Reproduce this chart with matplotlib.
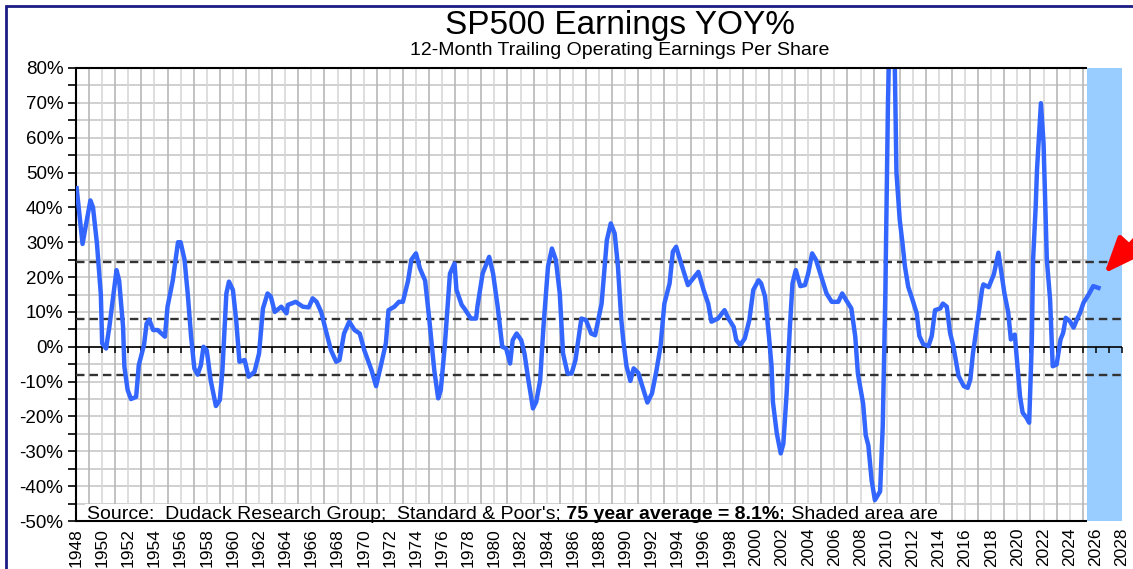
import numpy as np
import matplotlib.pyplot as plt
from matplotlib.patches import Rectangle
from matplotlib.markers import TICKDOWN
from matplotlib.ticker import MultipleLocator

# S&P 500 12-month trailing operating EPS, YoY %
yr = [1948.05, 1948.5, 1949.1, 1949.3, 1949.6, 1949.9, 1950.0, 1950.3, 1950.55, 1951.1,
      1951.3, 1951.6, 1951.7, 1951.95, 1952.2, 1952.6, 1952.8, 1953.2, 1953.4, 1953.6,
      1953.9, 1954.25, 1954.8, 1955.0, 1955.4, 1955.8, 1956.0, 1956.3, 1956.55, 1956.8,
      1957.05, 1957.3, 1957.55, 1957.75, 1958.0, 1958.3, 1958.7, 1959.0, 1959.2, 1959.5,
      1959.7, 1960.0, 1960.25, 1960.5, 1960.9, 1961.2, 1961.65, 1962.0, 1962.3, 1962.65,
      1962.9, 1963.2, 1963.7, 1964.1, 1964.2, 1964.8, 1965.35, 1965.8, 1966.1, 1966.4,
      1966.75, 1967.1, 1967.5, 1967.9, 1968.15, 1968.5, 1968.9, 1969.3, 1969.7, 1970.05,
      1970.6, 1970.95, 1971.3, 1971.7, 1971.9, 1972.35, 1972.7, 1973.0, 1973.4, 1973.65,
      1974.0, 1974.3, 1974.7, 1975.0, 1975.4, 1975.7, 1975.9, 1976.2, 1976.6, 1976.95,
      1977.1, 1977.5, 1977.7, 1978.2, 1978.6, 1978.7, 1979.1, 1979.6, 1979.9, 1980.25,
      1980.6, 1980.9, 1981.2, 1981.4, 1981.7, 1982.05, 1982.3, 1982.6, 1982.95, 1983.2,
      1983.5, 1983.75, 1984.1, 1984.4, 1984.7, 1985.0, 1985.25, 1985.6, 1985.9, 1986.2,
      1986.65, 1987.0, 1987.4, 1987.7, 1988.2, 1988.6, 1988.9, 1989.2, 1989.45, 1989.7,
      1989.85, 1990.1, 1990.4, 1990.65, 1991.0, 1991.4, 1991.7, 1992.05, 1992.4, 1992.7,
      1993.0, 1993.4, 1993.65, 1993.9, 1994.2, 1994.6, 1994.8, 1995.2, 1995.6, 1996.0,
      1996.35, 1996.6, 1997.1, 1997.6, 1997.9, 1998.3, 1998.5, 1998.8, 1999.15, 1999.5,
      1999.8, 2000.2, 2000.4, 2000.7, 2001.0, 2001.2, 2001.3, 2001.6, 2001.9, 2002.1,
      2002.35, 2002.6, 2002.8, 2003.05, 2003.4, 2003.75, 2004.0, 2004.3, 2004.6, 2005.0,
      2005.4, 2005.8, 2006.3, 2006.6, 2006.9, 2007.3, 2007.6, 2007.8, 2008.2, 2008.4,
      2008.6, 2008.85, 2009.1, 2009.5, 2009.7, 2009.9, 2010.1, 2010.35, 2010.6, 2010.75,
      2011.0, 2011.2, 2011.4, 2011.65, 2011.9, 2012.3, 2012.5, 2012.8, 2013.2, 2013.45,
      2013.7, 2014.1, 2014.3, 2014.6, 2014.85, 2015.1, 2015.5, 2015.9, 2016.2, 2016.4,
      2016.6, 2016.9, 2017.3, 2017.4, 2017.8, 2018.2, 2018.55, 2018.7, 2019.0, 2019.3,
      2019.5, 2019.8, 2020.2, 2020.4, 2020.7, 2020.9, 2021.1, 2021.2, 2021.4, 2021.5,
      2021.8, 2022.0, 2022.25, 2022.5, 2022.7, 2023.0, 2023.3, 2023.5, 2023.7, 2024.0,
      2024.3, 2024.55, 2024.8, 2025.05, 2025.45, 2025.8, 2026.2]
yoy = [45.5, 29.5, 42, 40, 29.7, 15, 1, -0.5, 5.7, 22,
       19, 5.7, -5.7, -12.4, -15, -14.4, -5.3, 0.5, 6.7, 7.8,
       4.8, 4.8, 2.9, 11.5, 19, 30, 30, 25, 15, 3,
       -6.2, -8, -5.3, 0, -1, -9.6, -17, -15.3, -6.7, 15.3,
       18.7, 16.3, 7.7, -4.3, -3.8, -8.6, -7.2, -1.9, 11, 15.3,
       14.4, 10, 11.5, 9.6, 12, 12.9, 11.5, 11.3, 13.9, 12.9,
       10, 4.8, -1, -4.3, -3.8, 3.8, 7.2, 4.8, 3.8, -1,
       -6.7, -11.3, -5.7, 1, 10.5, 11.5, 12.9, 12.9, 19, 25,
       26.8, 22.5, 19, 8.6, -6.7, -14.8, -12.4, 0, 21, 23.9,
       16.3, 12, 11, 8.1, 8.1, 11.5, 21, 25.8, 21, 11.5,
       0, -0.5, -4.8, 1.9, 3.8, 1.9, -1.9, -9.6, -17.7, -15.8,
       -9.6, 5.7, 23, 28.2, 24.9, 15.3, -1.9, -7.7, -7.7, -3.8,
       8.1, 7.7, 3.8, 3.3, 12.4, 30.6, 35.4, 32.5, 23, 8,
       2, -5.5, -9.8, -6.2, -7.5, -12.4, -16, -13.4, -6.7, 0,
       12.4, 18.2, 27.3, 28.7, 24.9, 20.1, 17.7, 19.6, 21.5, 16.3,
       12.4, 7.2, 8.1, 10.5, 8.1, 5.7, 1.9, 0.5, 2.4, 7.7,
       16.3, 19.1, 18.2, 14.4, 2.9, -5.7, -15.8, -24.9, -30.6, -27.8,
       -13.4, 5.7, 18.2, 22, 17.4, 17.7, 21, 26.8, 24.9, 20.1,
       15.3, 12.9, 12.9, 15.3, 13.4, 11, 2.9, -7.7, -16.3, -25.4,
       -28.3, -38.3, -44, -41.5, -22.9, 15.3, 70, 112, 86, 50,
       36.4, 30.1, 23, 17.2, 14.4, 9.6, 3.1, 0.7, 0.2, 3.1,
       10.5, 11, 12.4, 11.5, 4, 0.2, -8.4, -11.3, -11.8, -9.4,
       -1.9, 5.9, 16.5, 17.9, 17.1, 20.8, 27, 23.2, 15.5, 9.8,
       2.1, 3.5, -14.2, -18.9, -20.4, -21.8, 1.1, 25, 40.3, 50.9,
       69.9, 58.4, 25, 13.6, -5.6, -5.1, 2.1, 4, 8.3, 7.4,
       5.5, 7.8, 9.8, 12.6, 15, 17.4, 16.9]

avg = 8.1
hi_band = 24.4
lo_band = -8.2
fcst_start = 2025.3
xticks = list(range(1948, 2029, 2))
yticks = list(range(-50, 81, 10))

plt.rcParams['font.family'] = ['Liberation Sans', 'DejaVu Sans']

W, H = 1133, 569
fig = plt.figure(figsize=(W / 100, H / 100), dpi=100)
ax = fig.add_axes([76 / W, 1 - 521 / H, (1122 - 76) / W, (521 - 68) / H])
ax.set_xlim(1948, 2028)
ax.set_ylim(-50, 80)

# grid
for y in range(-45, 80, 5):
    ax.axhline(y, color='#c8c8c8', lw=1.2, zorder=0)
for x in range(1949, 2028):
    ax.axvline(x, color='#b8b8b8' if x % 2 else '#d8d8d8', lw=1.2, zorder=0)

# forecast shading
ax.axvspan(fcst_start, 2028, color='#99ccff', lw=0, zorder=1)

# average and +/- band
for lvl in (hi_band, avg, lo_band):
    ax.axhline(lvl, color='#333333', lw=1.7, ls=(0, (3.6, 2.1)), zorder=3)

# zero line with year ticks
ax.axhline(0, color='black', lw=1.2, zorder=3)
ax.plot(range(1949, 2029), np.zeros(80), ls='none', marker=TICKDOWN,
        ms=4, mew=1.1, color='black', zorder=3)

ax.plot(yr, yoy, color='#3366ff', lw=3.2, zorder=4, solid_joinstyle='round')

# frame
for s in ['top', 'right', 'bottom']:
    ax.spines[s].set_visible(False)
ax.spines['left'].set_linewidth(1.5)
ax.hlines([80, -50], 1948, fcst_start, color='black', lw=1.5, zorder=8, clip_on=False)

ax.set_yticks(yticks)
ax.set_yticklabels([f'{v}%' for v in yticks])
ax.yaxis.set_minor_locator(MultipleLocator(5))
ax.tick_params(axis='y', which='both', direction='out', length=6, width=1.2,
               labelsize=13.5, pad=3)
ax.set_xticks(xticks)
ax.set_xticklabels([str(v) for v in xticks], rotation=90)
ax.tick_params(axis='x', length=0, labelsize=12.5, pad=5)

# source note
box = dict(facecolor='white', edgecolor='none', pad=1.5)
t1 = ax.text(1948.85, -49.4, "Source:  Dudack Research Group;  Standard & Poor's;",
             fontsize=14, va='baseline', bbox=box, zorder=6)
t2 = ax.annotate(' 75 year average = 8.1%;', xy=(1, 0), xycoords=t1, va='bottom',
                 fontsize=14, fontweight='bold', bbox=box, zorder=6)
ax.annotate(' Shaded area are', xy=(1, 0), xycoords=t2, va='bottom',
            fontsize=14, bbox=box, zorder=6)

# red arrow
ax.annotate('', xy=(2026.66, 21.1), xytext=(2029.3, 32.1),
            arrowprops=dict(arrowstyle='-|>,head_length=1.1,head_width=0.45',
                            color='#ff0000', lw=3.5, shrinkA=0, shrinkB=0,
                            mutation_scale=20),
            annotation_clip=False, zorder=9)

fig.text(620 / W, 1 - 34 / H, 'SP500 Earnings YOY%', fontsize=24,
         ha='center', va='baseline')
fig.text(620 / W, 1 - 55 / H, '12-Month Trailing Operating Earnings Per Share',
         fontsize=14, ha='center', va='baseline')

fig.patches.append(Rectangle((6 / W, -0.1), 1.2, 1 - 6.5 / H + 0.1,
                             transform=fig.transFigure, fill=False,
                             ec='#1c1c84', lw=2))

fig.savefig('out.png', dpi=100)
